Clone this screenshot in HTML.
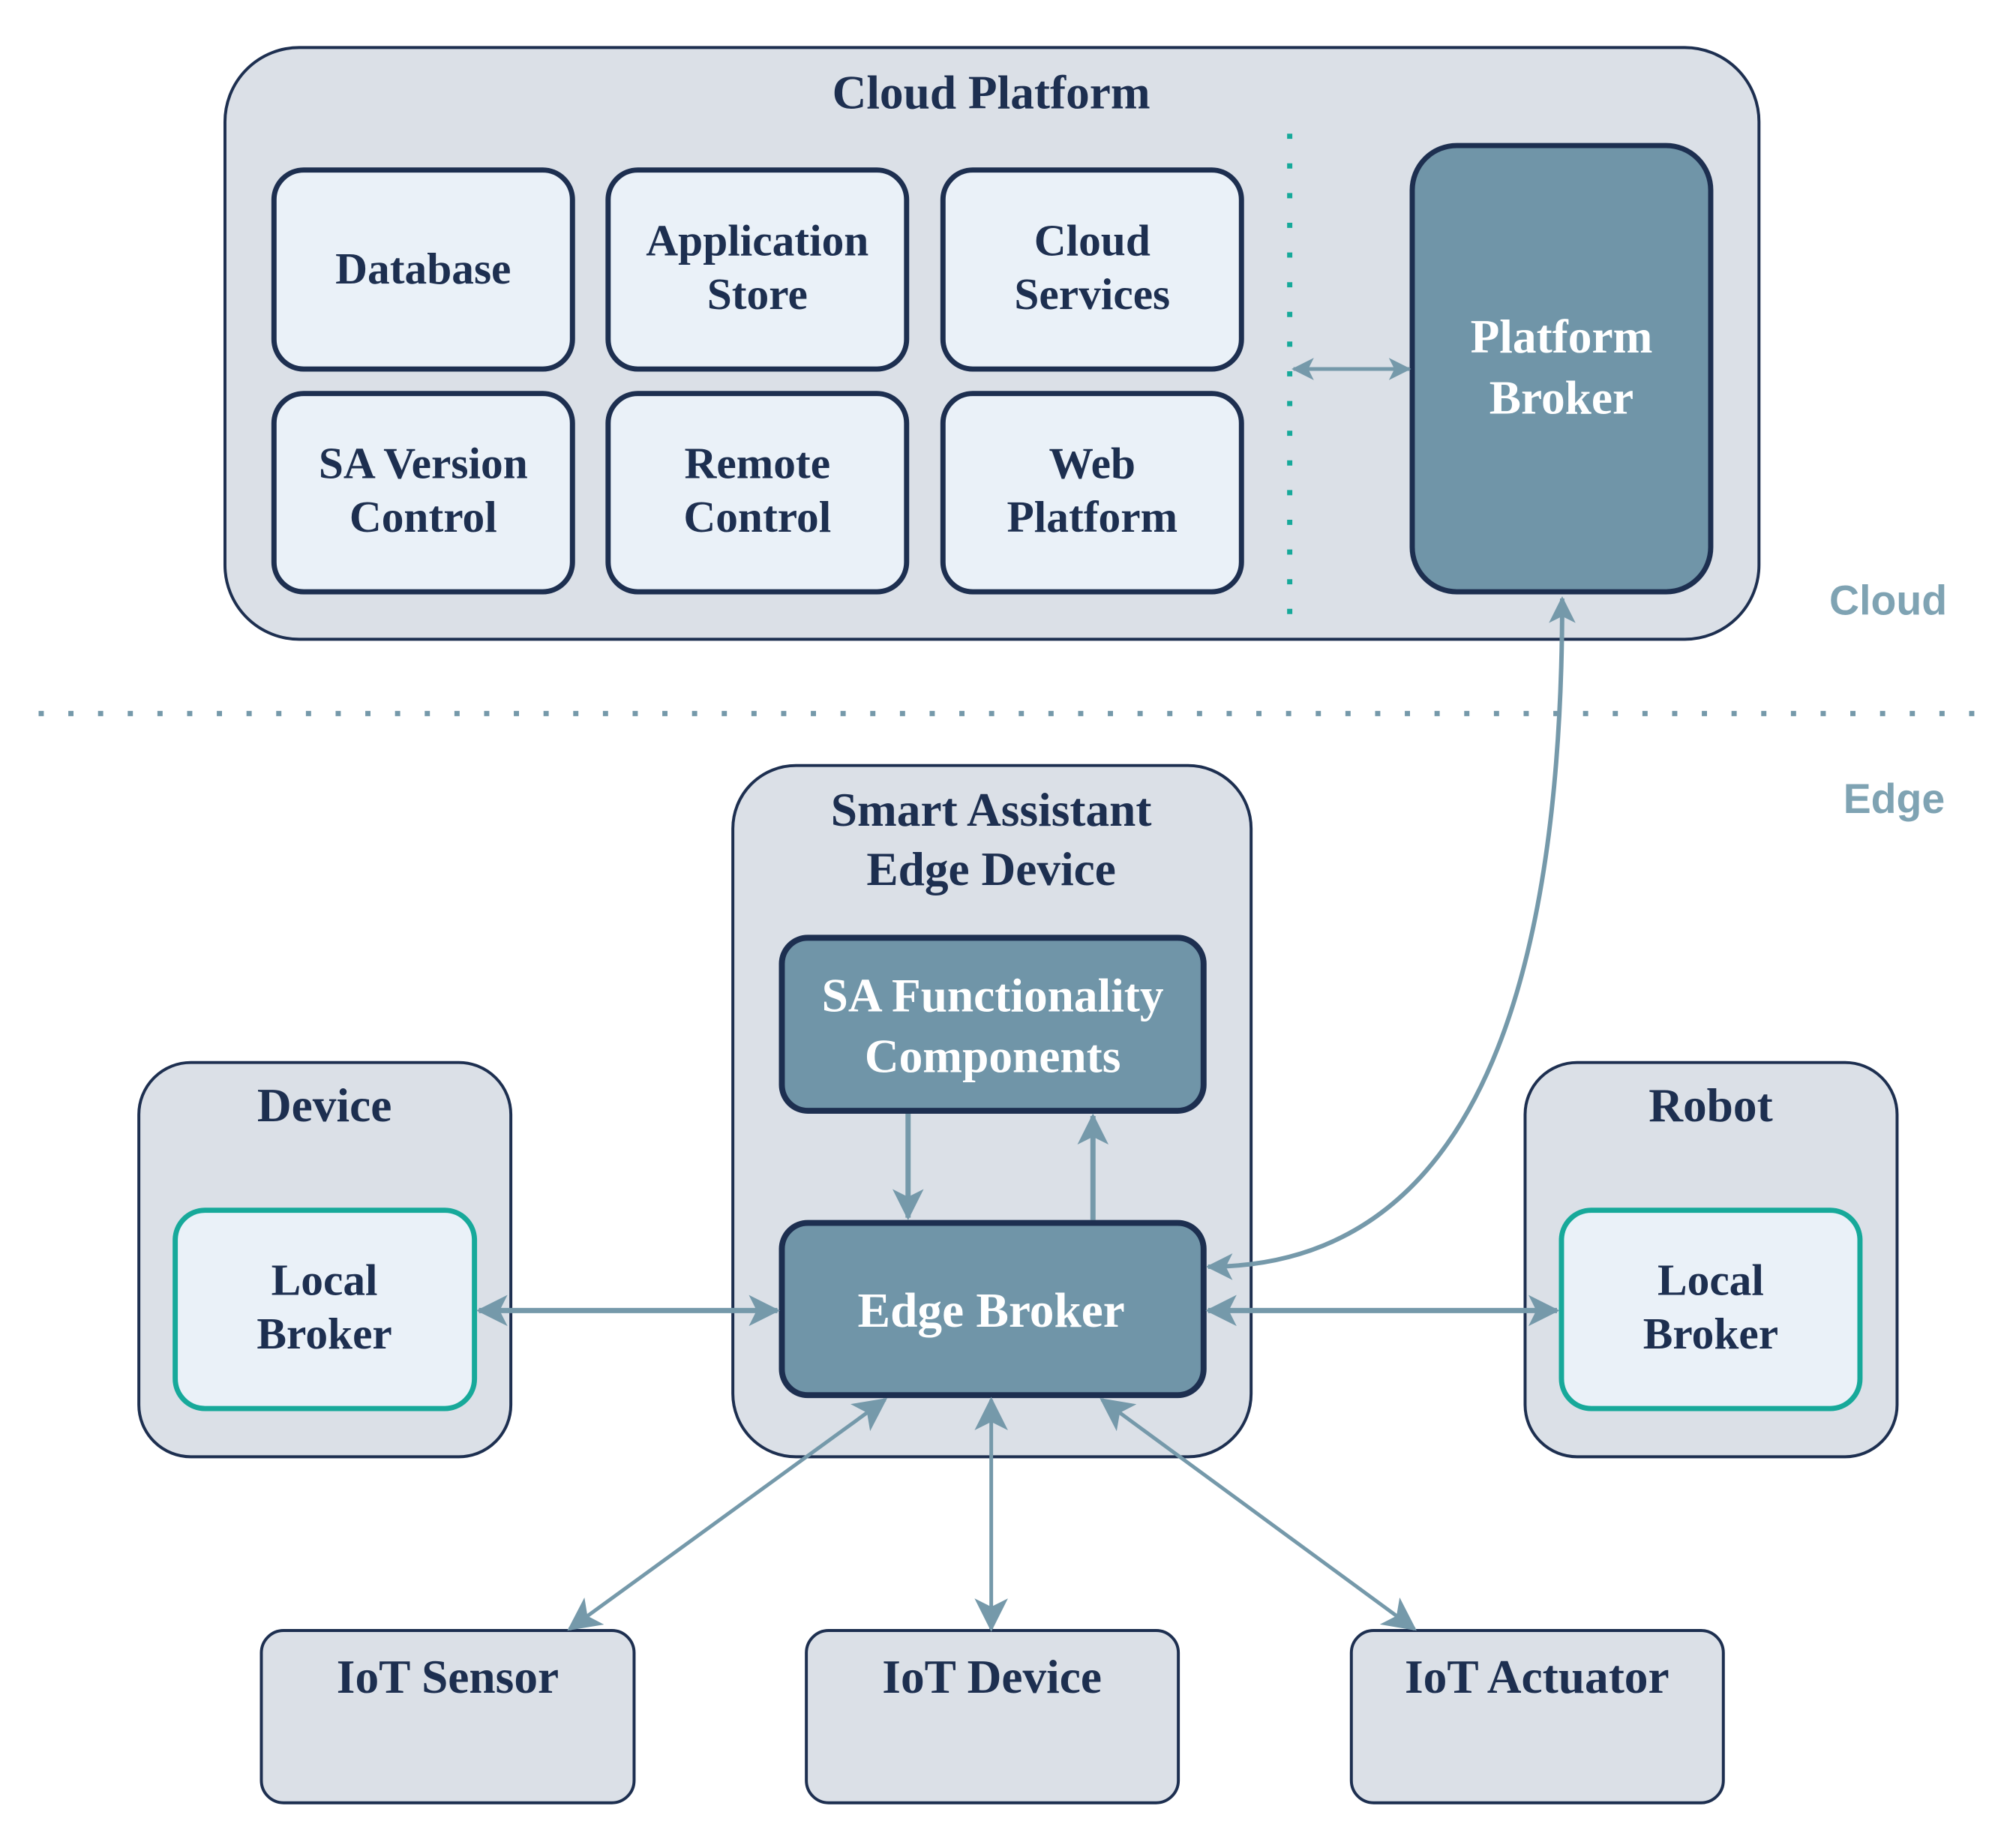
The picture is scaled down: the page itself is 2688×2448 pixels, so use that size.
<!DOCTYPE html>
<html><head><meta charset="utf-8"><style>
html,body{margin:0;padding:0;background:#fff;}
svg{display:block;}
.t{font-family:"Liberation Serif",serif;font-weight:bold;fill:#1d2f50;text-anchor:middle;}
.w{fill:#fff;}
.s{font-family:"Liberation Sans",sans-serif;font-weight:bold;fill:#7fa3b3;text-anchor:middle;}
</style></head><body>
<svg width="2688" height="2448" viewBox="0 0 2688 2448" xmlns="http://www.w3.org/2000/svg">
<defs>
<marker id="a" viewBox="0 0 12 12" refX="11" refY="6" markerWidth="6" markerHeight="6" orient="auto-start-reverse" markerUnits="strokeWidth">
<path d="M0,0 L12,6 L0,12 L3,6 z" fill="#7599aa"/></marker>
<marker id="b" viewBox="0 0 12 12" refX="11" refY="6" markerWidth="9" markerHeight="9" orient="auto-start-reverse" markerUnits="strokeWidth">
<path d="M0,0 L12,6 L0,12 L3,6 z" fill="#7599aa"/></marker>
</defs>
<g transform="scale(0.99)">
<rect x="303" y="64" width="2066" height="797" rx="100" fill="#dbe0e7" stroke="#1d2f50" stroke-width="4"/>
<text class="t" x="1335" y="146" font-size="64">Cloud Platform</text>
<g fill="#eaf1f8" stroke="#1d2f50" stroke-width="7">
<rect x="369" y="229" width="402" height="268" rx="40"/>
<rect x="819" y="229" width="402" height="268" rx="40"/>
<rect x="1270" y="229" width="402" height="268" rx="40"/>
<rect x="369" y="530" width="402" height="267" rx="40"/>
<rect x="819" y="530" width="402" height="267" rx="40"/>
<rect x="1270" y="530" width="402" height="267" rx="40"/>
</g>
<g font-size="60">
<text class="t" x="570" y="382">Database</text>
<text class="t" x="1020" y="344">Application</text><text class="t" x="1020" y="416">Store</text>
<text class="t" x="1471" y="344">Cloud</text><text class="t" x="1471" y="416">Services</text>
<text class="t" x="570" y="644">SA Version</text><text class="t" x="570" y="716">Control</text>
<text class="t" x="1020" y="644">Remote</text><text class="t" x="1020" y="716">Control</text>
<text class="t" x="1471" y="644">Web</text><text class="t" x="1471" y="716">Platform</text>
</g>
<line x1="1737" y1="180" x2="1737" y2="835" stroke="#17a99a" stroke-width="7" stroke-dasharray="7,33"/>
<rect x="1902" y="196" width="402" height="601" rx="60" fill="#7095a8" stroke="#1d2f50" stroke-width="7"/>
<text class="t w" x="2103" y="475" font-size="64">Platform</text>
<text class="t w" x="2103" y="557" font-size="64">Broker</text>
<line x1="1742" y1="497" x2="1898" y2="497" stroke="#7599aa" stroke-width="5" marker-start="url(#a)" marker-end="url(#a)"/>
<text class="s" x="2543" y="828" font-size="56">Cloud</text>
<line x1="52" y1="961" x2="2667" y2="961" stroke="#7599aa" stroke-width="7" stroke-dasharray="7,33"/>
<text class="s" x="2551" y="1095" font-size="56">Edge</text>
<rect x="987" y="1031" width="698" height="931" rx="85" fill="#dbe0e7" stroke="#1d2f50" stroke-width="4"/>
<text class="t" x="1335" y="1112" font-size="64">Smart Assistant</text>
<text class="t" x="1335" y="1192" font-size="64">Edge Device</text>
<rect x="1053" y="1263" width="568" height="233" rx="35" fill="#7095a8" stroke="#1d2f50" stroke-width="8"/>
<text class="t w" x="1337" y="1362" font-size="64">SA Functionality</text>
<text class="t w" x="1337" y="1444" font-size="64">Components</text>
<rect x="1053" y="1647" width="568" height="232" rx="35" fill="#7095a8" stroke="#1d2f50" stroke-width="8"/>
<text class="t w" x="1335" y="1787" font-size="66">Edge Broker</text>
<line x1="1223" y1="1500" x2="1223" y2="1640" stroke="#7599aa" stroke-width="7" marker-end="url(#a)"/>
<line x1="1472" y1="1643" x2="1472" y2="1503" stroke="#7599aa" stroke-width="7" marker-end="url(#a)"/>
<rect x="187" y="1431" width="501" height="531" rx="70" fill="#dbe0e7" stroke="#1d2f50" stroke-width="4"/>
<text class="t" x="437" y="1510" font-size="64">Device</text>
<rect x="236" y="1630" width="403" height="267" rx="40" fill="#eaf1f8" stroke="#17a99a" stroke-width="7"/>
<text class="t" x="437" y="1744" font-size="60">Local</text><text class="t" x="437" y="1816" font-size="60">Broker</text>
<rect x="2054" y="1431" width="501" height="531" rx="70" fill="#dbe0e7" stroke="#1d2f50" stroke-width="4"/>
<text class="t" x="2304" y="1510" font-size="64">Robot</text>
<rect x="2103" y="1630" width="402" height="267" rx="40" fill="#eaf1f8" stroke="#17a99a" stroke-width="7"/>
<text class="t" x="2304" y="1744" font-size="60">Local</text><text class="t" x="2304" y="1816" font-size="60">Broker</text>
<line x1="645" y1="1765" x2="1047" y2="1765" stroke="#7599aa" stroke-width="7" marker-start="url(#a)" marker-end="url(#a)"/>
<line x1="1627" y1="1765" x2="2097" y2="1765" stroke="#7599aa" stroke-width="7" marker-start="url(#a)" marker-end="url(#a)"/>
<path d="M2104,806 C2104,1400 1950,1706 1627,1706" fill="none" stroke="#7599aa" stroke-width="6" marker-start="url(#a)" marker-end="url(#a)"/>
<g fill="#dbe0e7" stroke="#1d2f50" stroke-width="4">
<rect x="352" y="2196" width="502" height="232" rx="30"/>
<rect x="1086" y="2196" width="501" height="232" rx="30"/>
<rect x="1820" y="2196" width="501" height="232" rx="30"/>
</g>
<text class="t" x="603" y="2280" font-size="64">IoT Sensor</text>
<text class="t" x="1336" y="2280" font-size="64">IoT Device</text>
<text class="t" x="2070" y="2280" font-size="64">IoT Actuator</text>
<g stroke="#7599aa" stroke-width="5">
<line x1="1192" y1="1885" x2="767" y2="2194" marker-start="url(#b)" marker-end="url(#b)"/>
<line x1="1335" y1="1885" x2="1335" y2="2194" marker-start="url(#b)" marker-end="url(#b)"/>
<line x1="1484" y1="1885" x2="1905" y2="2194" marker-start="url(#b)" marker-end="url(#b)"/>
</g>
</g>
</svg>
</body></html>
